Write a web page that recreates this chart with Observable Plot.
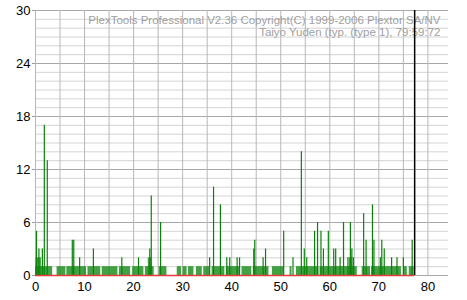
<!DOCTYPE html>
<html><head><meta charset="utf-8">
<script src="https://cdn.jsdelivr.net/npm/d3@7"></script>
<script src="https://cdn.jsdelivr.net/npm/@observablehq/plot@0.6"></script>
<style>body{margin:0;background:#fff}</style>
</head><body><div id="chart"></div>
<script>
const xTicks = [0, 10, 20, 30, 40, 50, 60, 70, 80];
const yTicks = [0, 6, 12, 18, 24, 30];
const spikeX = [0.2, 0.7, 1.4, 1.8, 2.4, 7.5, 7.8, 9.0, 11.8, 17.6, 21.0, 23.3, 23.6, 25.5,
  35.5, 36.3, 37.7, 39.0, 39.6, 41.1, 41.6, 44.5, 44.7, 46.4, 46.9, 50.6, 52.5, 54.2, 54.8, 55.3,
  56.9, 57.5, 58.2, 58.7, 59.7, 60.8, 61.2, 62.1, 62.8, 63.7, 64.2, 64.5, 64.8, 66.9, 67.4,
  68.7, 69.0, 70.3, 70.6, 71.1, 72.6, 73.7, 75.0, 76.8];
const spikeY = [5, 3, 3, 17, 13, 4, 4, 2, 3, 2, 2, 3, 9, 6,
  2, 10, 8, 2, 2, 2, 2, 3, 4, 2, 3, 5, 2, 14, 3, 2,
  5, 6, 5, 3, 5, 3, 3, 2, 6, 2, 6, 3, 2, 7, 4,
  8, 4, 2, 4, 3, 2, 2, 2, 4];
const blockStart = [0.1, 0, 4.4, 6.4, 10.7, 13.6, 17.1, 19.8, 22.4, 23.0, 25.2, 28.9, 30.1, 31.2, 32.8, 34.3, 36.0, 38.9, 42.1, 44.4, 48.3, 51.9, 53.2, 58.0, 63.0, 64.0, 66.6, 68.5, 75.1, 76.2];
const blockEnd   = [1.2, 3.5, 6.2, 10.4, 13.3, 16.8, 19.4, 22.1, 24.2, 23.7, 26.8, 29.8, 30.9, 32.3, 34.0, 35.6, 38.6, 41.8, 44.1, 47.6, 50.7, 52.3, 57.8, 62.8, 65.6, 64.6, 68.3, 74.6, 75.8, 77.2];
const blockVal   = [2, 1, 1, 1, 1, 1, 1, 1, 1, 2, 1, 1, 1, 1, 1, 1, 1, 1, 1, 1, 1, 1, 1, 1, 1, 2, 1, 1, 1, 1];
const titleLines = ["PlexTools Professional V2.36 Copyright(C) 1999-2006 Plextor SA/NV",
                    "Taiyo Yuden (typ. (type 1), 79:59:72"];
const scanEnd = 77.3;
const xMax = 84.2, yMax = 30;

const spikes = spikeX.map((x, i) => ({x, y: spikeY[i]}));
const blocks = blockStart.map((s, i) => ({x1: s, x2: blockEnd[i], y: blockVal[i]}));
const yMinor = d3.range(0, yMax + 1, 1);
const xGrid = d3.range(0, 81, 5);

const chart = Plot.plot({
  width: 467, height: 300,
  marginLeft: 35, marginRight: 19, marginTop: 10, marginBottom: 25,
  style: {fontFamily: "Liberation Sans, Arial, sans-serif", fontSize: "12px", background: "#fff"},
  x: {domain: [0, xMax], label: null},
  y: {domain: [0, yMax], label: null},
  marks: [
    Plot.ruleY(yMinor, {stroke: "#d4d4d4", strokeWidth: 1}),
    Plot.ruleY(yTicks, {stroke: "#a8a8a8", strokeWidth: 1}),
    Plot.ruleX(xGrid, {y1: 0, y2: yMax, stroke: "#b8b8b8", strokeWidth: 1}),
    Plot.axisY({ticks: yTicks, label: null, tickSize: 3, tickPadding: 2, stroke: "#999", fill: "#000", fontSize: 13}),
    Plot.axisX({ticks: xTicks, label: null, tickSize: 0, tickPadding: 6, fill: "#000", fontSize: 13}),
    Plot.text([titleLines[0]], {frameAnchor: "top-right", lineAnchor: "top", dx: -8, dy: 5, fill: "#a0a0a0", fontSize: 11.5}),
    Plot.text([titleLines[1]], {frameAnchor: "top-right", lineAnchor: "top", dx: -8, dy: 17, fill: "#a0a0a0", fontSize: 11.5}),
    Plot.rect(blocks, {x1: "x1", x2: "x2", y1: 0, y2: "y", fill: "#138a13", fillOpacity: 0.8}),
    Plot.ruleX(spikes, {x: "x", y1: 0, y2: "y", stroke: "#0a820a", strokeWidth: 1.2}),
    Plot.ruleY([0], {x1: 0, x2: scanEnd, stroke: "#e83a3a", strokeWidth: 1.5}),
    Plot.ruleX([scanEnd], {y1: 0, y2: yMax, stroke: "#000", strokeWidth: 1.5})
  ]
});
document.getElementById("chart").append(chart);
</script>
</body></html>
